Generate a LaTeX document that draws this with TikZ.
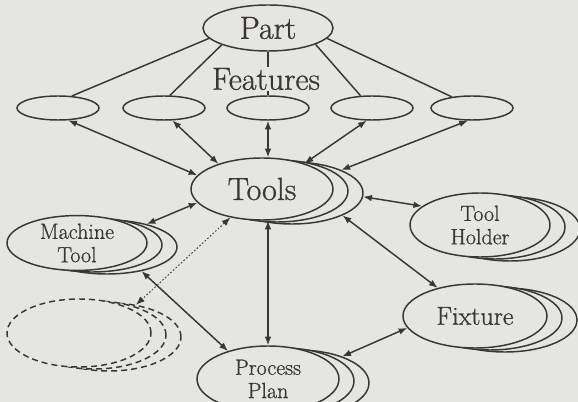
\documentclass[tikz,border=0pt]{standalone}
\usepackage{fontspec}
\setmainfont{Latin Modern Roman}[FakeBold=0.9]
\usetikzlibrary{shapes.geometric,arrows.meta}
\definecolor{paper}{RGB}{229,229,226}
\definecolor{ink}{RGB}{58,54,52}
\tikzset{
  blob/.style={ellipse, draw=ink, fill=paper, line width=1.1pt, inner sep=0pt,
               align=center, text=ink},
  feat/.style={blob, minimum width=61.5pt, minimum height=18pt},
  bigtext/.style={font=\fontsize{24}{26}\selectfont},
  midtext/.style={font=\fontsize{19.5}{22}\selectfont},
  smalltext/.style={font=\fontsize{16.5}{17.5}\selectfont},
  link/.style={draw=ink, line width=1.1pt},
  both/.style={link, {Latex[length=6.5pt,width=5pt]}-{Latex[length=6.5pt,width=5pt]}},
}

\begin{document}
\begin{tikzpicture}[x=0.75pt, y=-0.75pt,
    toolsbox/.style={minimum width=106.5pt, minimum height=46.5pt},
    mtbox/.style={minimum width=105pt, minimum height=40.5pt},
    thbox/.style={minimum width=105pt, minimum height=48pt},
    fxbox/.style={minimum width=108pt, minimum height=48pt},
    ppbox/.style={minimum width=106.5pt, minimum height=49.5pt},
    dashbox/.style={minimum width=108pt, minimum height=51pt, dash pattern=on 4.5pt off 3pt}]

  \clip (0,0) rectangle (578,402);
  \fill[paper] (0,0) rectangle (578,402);

  % copies stacked behind the front ellipses
  \foreach \n/\s/\cx/\cy in {tools/toolsbox/262/189, mt/mtbox/77/243, th/thbox/480/225,
                             fx/fxbox/475/316, pp/ppbox/268/379, dash/dashbox/79/333}
    \foreach \k in {2,1}
      \node[blob, \s] (\n-\k) at (\cx+15*\k, \cy+2*\k) {};

  \node[blob, bigtext, minimum width=97.5pt, minimum height=34.5pt] (part) at (268,28) {Part};
  \node[feat] (f1) at (58,108) {};
  \node[feat] (f2) at (164,108) {};
  \node[feat] (f3) at (268,108) {};
  \node[feat] (f4) at (372,108) {};
  \node[feat] (f5) at (472,108) {};

  \node[blob, toolsbox, bigtext] (tools) at (262,189) {Tools};
  \node[blob, mtbox, smalltext] (mt) at (77,243) {Machine\\Tool};
  \node[blob, thbox, smalltext] (th) at (480,225) {Tool\\Holder};
  \node[blob, fxbox, midtext] (fx) at (475,316) {Fixture};
  \node[blob, ppbox, smalltext] (pp) at (268,379) {Process\\Plan};
  \node[blob, dashbox] (dash) at (79,333) {};

  % part to its features
  \foreach \a/\b in {part.190/f1.41, part.200/f2.65, part/f3, part.341/f4.133, part.350/f5.151}
    \draw[link] (\a) -- (\b);
  \node[bigtext, fill=paper, text=ink, inner sep=1pt] (featlabel) at (266,79) {Features};

  % tools and the rest
  \foreach \a/\b in {f1.-50/tools.168, f2.-56/tools.150, f4.247/tools.31, f5.252/tools-2.25,
                     tools.192/mt-2.30, mt-2.325/pp.145, tools-2.-3/th.162,
                     tools-2.336/fx.143, pp-2.31/fx.190}
    \draw[both] (\a) -- (\b);
  \draw[both] (f3.south) -- (f3.south |- tools.north);
  \draw[both] (pp.north |- tools.south) -- (pp.north);
  \draw[both, line width=0.7pt, dash pattern=on 1.2pt off 1.5pt] (tools.222) -- (dash-2.50);
\end{tikzpicture}
\end{document}
